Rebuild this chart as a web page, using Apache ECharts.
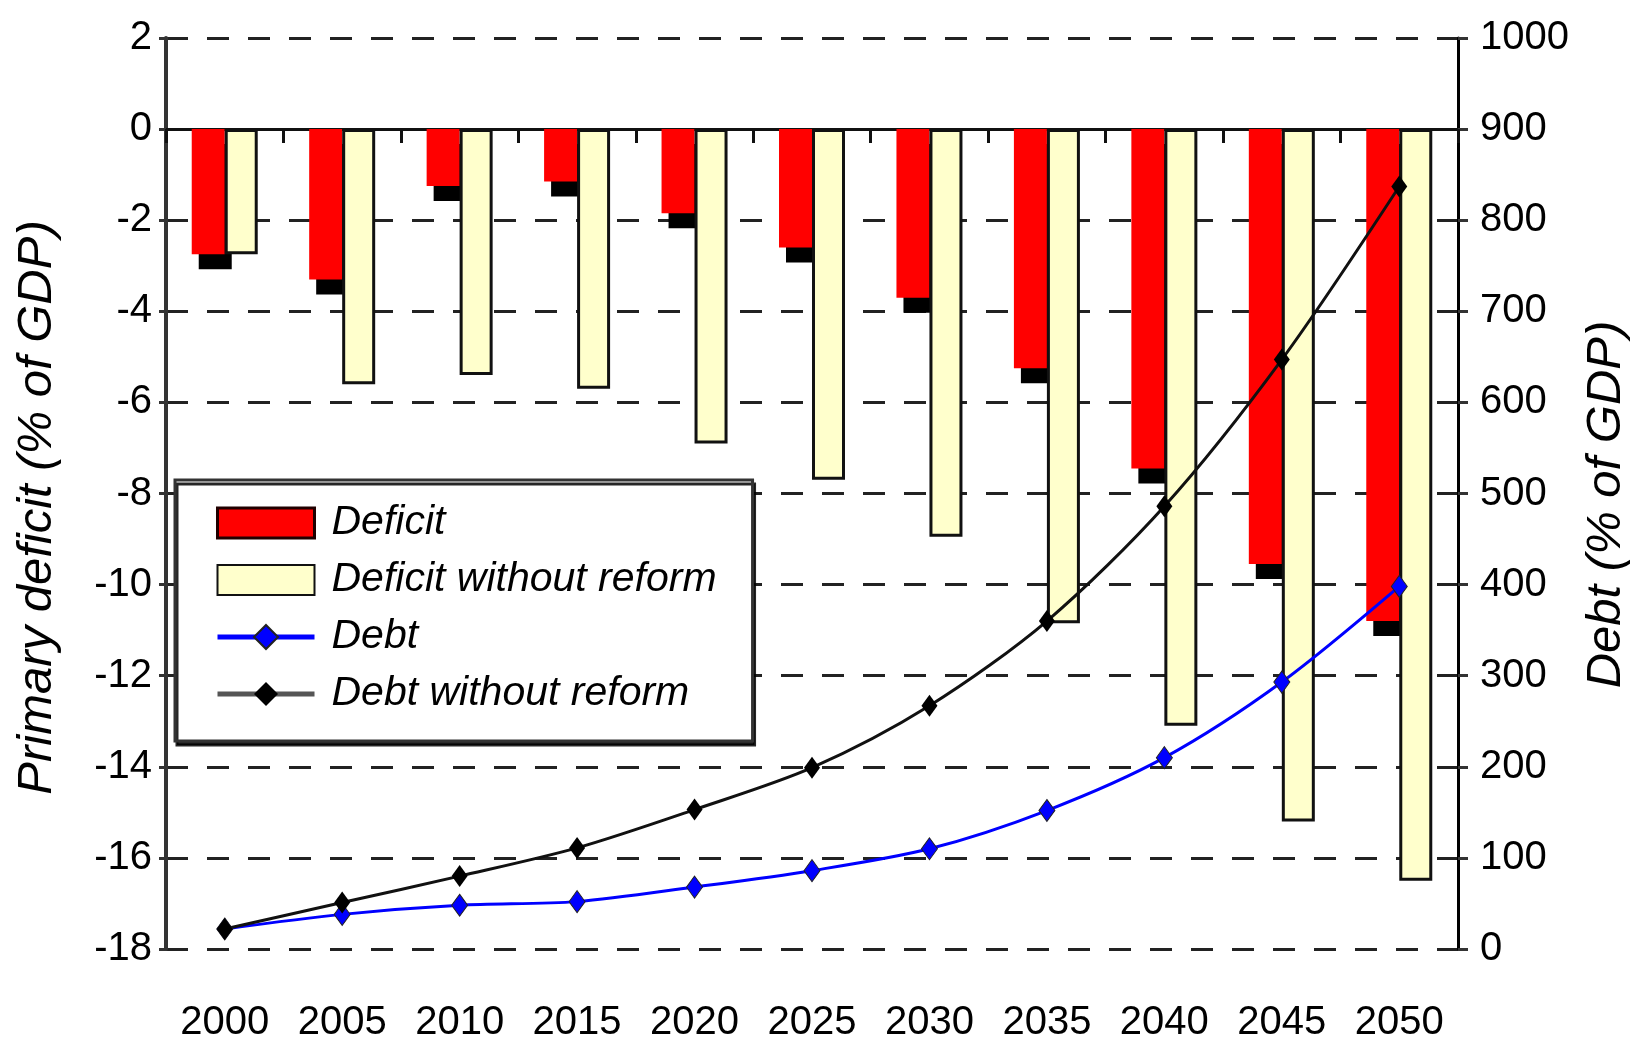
<!DOCTYPE html>
<html>
<head>
<meta charset="utf-8">
<script src="https://cdn.jsdelivr.net/npm/echarts@6/dist/echarts.min.js"></script>
<style>
  html, body { margin: 0; padding: 0; background: #fff; }
  #chart { width: 1630px; height: 1047px; }
</style>
</head>
<body>
<div id="chart"></div>
<script>
// values
const years = ['2000', '2005', '2010', '2015', '2020', '2025', '2030', '2035', '2040', '2045', '2050'];
const deficit = [-2.75, -3.3, -1.25, -1.15, -1.85, -2.6, -3.7, -5.25, -7.45, -9.55, -10.8];
const deficitNoReform = [-2.75, -5.6, -5.4, -5.7, -6.9, -7.7, -8.95, -10.85, -13.1, -15.2, -16.5];
const debt = [22, 38, 48, 52, 68, 86, 110, 152, 210, 293, 398];
const debtNoReform = [22, 51, 80, 111, 153, 199, 267, 360, 486, 647, 837];

const FONT = '"Liberation Sans", Arial, sans-serif';

const chart = echarts.init(document.getElementById('chart'));

chart.setOption({
  animation: false,
  backgroundColor: '#fff',
  textStyle: { fontFamily: FONT, color: '#000' },
  grid: { left: 166, right: 172, top: 38, bottom: 98, containLabel: false, outerBoundsMode: 'none' },
  legend: {
    orient: 'vertical',
    left: 175,
    top: 480,
    padding: [22, 36, 26, 40],
    itemWidth: 97,
    itemHeight: 30,
    itemGap: 15,
    backgroundColor: '#fff',
    borderColor: '#333',
    borderWidth: 3,
    shadowColor: 'rgba(0,0,0,0.85)',
    shadowOffsetX: 2,
    shadowOffsetY: 4,
    shadowBlur: 0,
    textStyle: { fontFamily: FONT, fontStyle: 'italic', fontSize: 41, color: '#000', lineHeight: 42, padding: [0, 0, 0, 12] },
    data: [
      { name: 'Deficit', icon: 'rect', itemStyle: { borderColor: '#200000', borderWidth: 3 } },
      { name: 'Deficit without reform', icon: 'rect' },
      { name: 'Debt', lineStyle: { width: 5 } },
      { name: 'Debt without reform', lineStyle: { width: 5, color: '#555' } }
    ]
  },
  xAxis: [
    {
      type: 'category',
      data: years,
      position: 'bottom',
      axisLine: { onZero: true, lineStyle: { color: '#111', width: 3 } },
      axisTick: { show: true, length: 14, lineStyle: { color: '#111', width: 3 } },
      axisLabel: { show: false },
      splitLine: { show: false }
    },
    {
      type: 'category',
      data: years,
      position: 'bottom',
      axisLine: { show: false, onZero: false },
      axisTick: { show: false },
      axisLabel: { show: true, margin: 54, fontSize: 40, color: '#000', fontFamily: FONT },
      splitLine: { show: false }
    }
  ],
  yAxis: [
    {
      type: 'value',
      position: 'left',
      min: -18,
      max: 2,
      interval: 2,
      name: 'Primary deficit (% of GDP)',
      nameLocation: 'middle',
      nameRotate: 90,
      nameGap: 104,
      nameTextStyle: { fontFamily: FONT, fontStyle: 'italic', fontSize: 49, color: '#000', padding: [0, 28, 0, 0] },
      axisLine: { show: true, onZero: false, lineStyle: { color: '#333', width: 4 } },
      axisTick: { show: true, length: 7, lineStyle: { color: '#333', width: 3 } },
      axisLabel: { margin: 14, fontSize: 40, color: '#000', fontFamily: FONT },
      splitLine: { show: true, lineStyle: { color: '#222', width: 3, type: [22, 19] } }
    },
    {
      type: 'value',
      position: 'right',
      min: 0,
      max: 1000,
      interval: 100,
      name: 'Debt (% of GDP)',
      nameLocation: 'middle',
      nameRotate: 90,
      nameGap: 124,
      nameTextStyle: { fontFamily: FONT, fontStyle: 'italic', fontSize: 49, color: '#000', padding: [0, 22, 0, 0] },
      axisLine: { show: true, onZero: false, lineStyle: { color: '#000', width: 3 } },
      axisTick: { show: true, length: 10, lineStyle: { color: '#333', width: 3 } },
      axisLabel: { margin: 22, fontSize: 40, color: '#000', fontFamily: FONT, formatter: (v) => String(v) },
      splitLine: { show: false }
    }
  ],
  series: [
    {
      name: 'Deficit',
      type: 'bar',
      data: deficit,
      barWidth: 33,
      barGap: '0%',
      itemStyle: {
        color: '#ff0000',
        borderWidth: 0,
        shadowColor: '#000',
        shadowBlur: 0,
        shadowOffsetX: 7,
        shadowOffsetY: 15
      }
    },
    {
      name: 'Deficit without reform',
      type: 'bar',
      data: deficitNoReform,
      barWidth: 33,
      barGap: '0%',
      itemStyle: { color: '#ffffcc', borderColor: '#111', borderWidth: 3 }
    },
    {
      name: 'Debt',
      type: 'line',
      yAxisIndex: 1,
      data: debt,
      smooth: 0.3,
      symbol: 'diamond',
      symbolSize: [16, 22],
      lineStyle: { color: '#0000ff', width: 3 },
      itemStyle: { color: '#0000ff', borderColor: '#222', borderWidth: 1 }
    },
    {
      name: 'Debt without reform',
      type: 'line',
      yAxisIndex: 1,
      data: debtNoReform,
      smooth: 0.3,
      symbol: 'diamond',
      symbolSize: [16, 22],
      lineStyle: { color: '#111', width: 3 },
      itemStyle: { color: '#000' }
    }
  ]
});
</script>
</body>
</html>
